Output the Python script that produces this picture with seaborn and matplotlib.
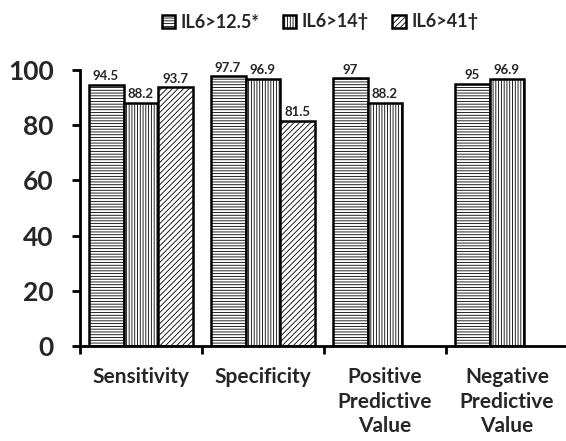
import pandas as pd
import numpy as np
import seaborn as sns
import matplotlib.pyplot as plt

categories = ['Sensitivity', 'Specificity', 'Positive\nPredictive\nValue', 'Negative\nPredictive\nValue']
groups = ['IL6>12.5*', 'IL6>14\u2020', 'IL6>41\u2020']
il6_125 = [94.5, 97.7, 97, 95]
il6_14 = [88.2, 96.9, 88.2, 96.9]
il6_41 = [93.7, 81.5, np.nan, np.nan]
hatches = ['------', '||||||', '//////']

rows = []
for g, vals in zip(groups, [il6_125, il6_14, il6_41]):
    for c, v in zip(categories, vals):
        rows.append({'cat': c, 'grp': g, 'val': v})
df = pd.DataFrame(rows)

sns.set_style('white')
plt.rcParams['font.family'] = ['Lato', 'DejaVu Sans']
plt.rcParams['hatch.linewidth'] = 0.6

fig = plt.figure(figsize=(5.66, 4.41), dpi=100)
ax = fig.add_axes([80 / 566, 95 / 441, 488 / 566, 276 / 441])
sns.barplot(data=df, x='cat', y='val', hue='grp', order=categories, hue_order=groups,
            width=0.86, gap=0, palette=['white'] * 3, edgecolor='black', linewidth=1.8,
            legend=False, ax=ax)

for cont, h in zip(ax.containers, hatches):
    for p in cont:
        p.set_hatch(h)
        p.set_facecolor('white')
        p.set_edgecolor('black')
    labels = ['' if np.isnan(v) else ('%g' % v) for v in cont.datavalues]
    ax.bar_label(cont, labels=labels, padding=2, fontsize=9.5, fontweight='bold')

ax.set_xlim(-0.5, 3.5)
ax.set_ylim(0, 100)
ax.set_yticks([0, 20, 40, 60, 80, 100])
ax.set_xlabel('')
ax.set_ylabel('')
for s in ['top', 'right']:
    ax.spines[s].set_visible(False)
for s in ['left', 'bottom']:
    ax.spines[s].set_linewidth(2)
    ax.spines[s].set_color('black')

ax.set_xticks([-0.5, 0.5, 1.5, 2.5], minor=True)
ax.tick_params(axis='x', which='major', length=0, pad=15, labelsize=15)
ax.tick_params(axis='x', which='minor', length=6, width=2, color='black', direction='out', bottom=True)
ax.tick_params(axis='y', length=6, width=2, color='black', direction='out', left=True, labelsize=19, pad=13)
for t in ax.get_xticklabels() + ax.get_yticklabels():
    t.set_fontweight('bold')
for t in ax.get_xticklabels():
    t.set_linespacing(1.3)

leg = ax.legend(ax.containers, groups, loc='center', bbox_to_anchor=(320 / 566, 1 - 22 / 441),
                bbox_transform=fig.transFigure, ncol=3, frameon=False,
                prop={'weight': 'bold', 'size': 13}, handlelength=0.75, handleheight=0.75,
                handletextpad=0.3, columnspacing=1.3)

fig.savefig('out.png', dpi=100)
